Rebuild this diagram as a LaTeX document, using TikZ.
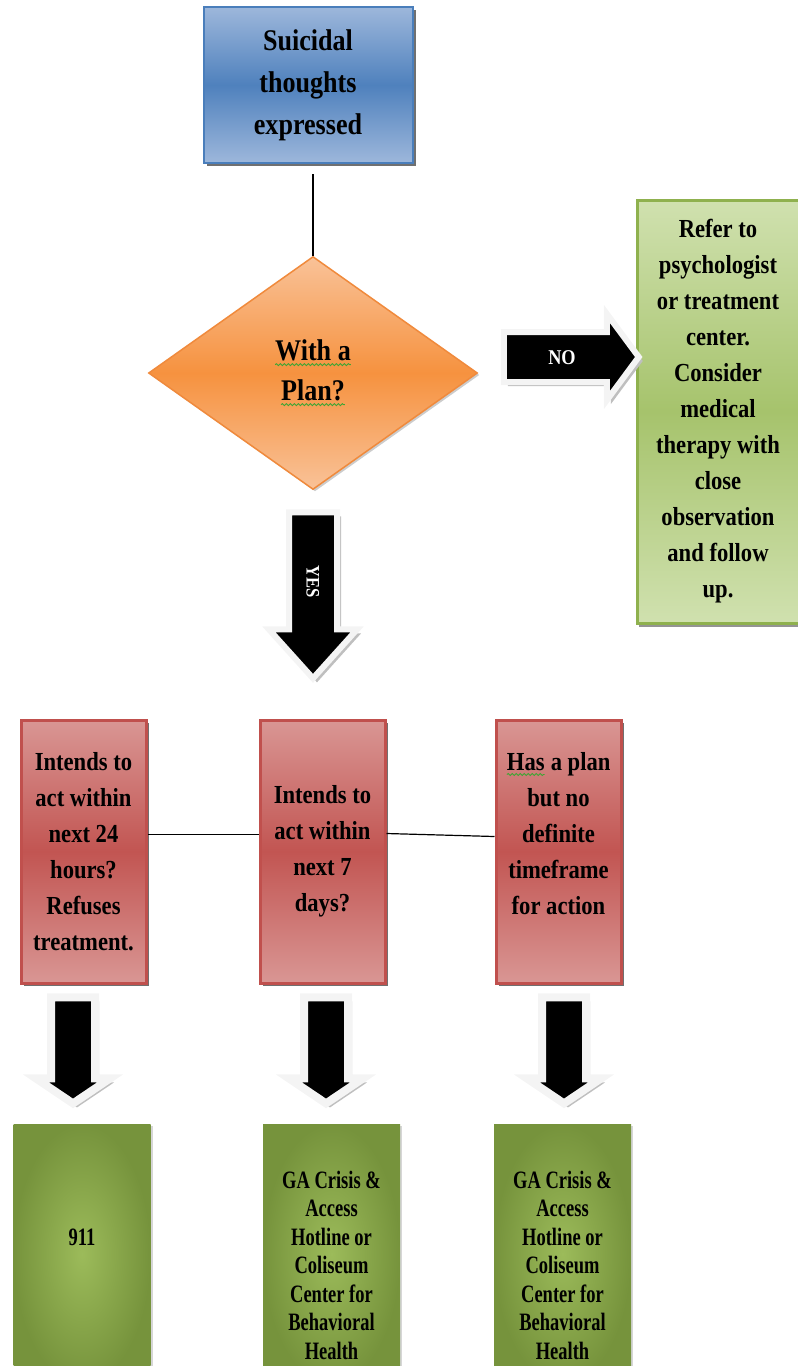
\documentclass[tikz,border=0pt]{standalone}
\usepackage{fontspec}
\usepackage{xcolor}
\usepackage{tikz}
\usetikzlibrary{shapes.geometric,shapes.arrows,shadows,decorations.pathmorphing}
\setmainfont{Liberation Serif}[FakeStretch=0.87]
\newfontfamily\narrowserif{Liberation Serif}[FakeStretch=0.74]
\definecolor{startblue}{HTML}{4F81BD}
\definecolor{startlight}{HTML}{9DB7DB}
\definecolor{startline}{HTML}{4A7EBB}
\definecolor{planorange}{HTML}{F6923F}
\definecolor{planlight}{HTML}{F9C298}
\definecolor{planline}{HTML}{F08A3C}
\definecolor{referlight}{HTML}{D0E1AF}
\definecolor{refermid}{HTML}{A6C36C}
\definecolor{referline}{HTML}{8FB14E}
\definecolor{risklight}{HTML}{D99694}
\definecolor{riskmid}{HTML}{C25552}
\definecolor{riskline}{HTML}{C0504D}
\definecolor{helpdark}{HTML}{76933C}
\definecolor{helplight}{HTML}{9CBB5A}
\definecolor{spellgreen}{HTML}{3FA535}
\definecolor{arrowframe}{HTML}{F4F4F4}
\newcommand{\spellchk}[1]{\tikz[baseline=(w.base)]{\node[rectangle, draw=none, fill=none, inner sep=0pt, outer sep=0pt,
    minimum width=0pt, minimum height=0pt] (w) {#1};
  \draw[spellgreen, line width=.9pt, decorate, decoration={snake, amplitude=1pt, segment length=4pt}]
    ([yshift=-4pt]w.base west) -- ([yshift=-4pt]w.base east);}}

\begin{document}
\begin{tikzpicture}[x=1pt,y=-1pt,
    startbox/.style={draw=startline, line width=2pt, top color=startlight, bottom color=startlight, middle color=startblue,
                     minimum width=209pt, minimum height=156pt, align=center, font=\bfseries\fontsize{30}{42}\selectfont,
                     drop shadow={shadow xshift=3pt, shadow yshift=-3pt, fill=black!70, opacity=.8}},
    decision/.style={diamond, draw=planline, line width=1.5pt, top color=planlight, bottom color=planlight, middle color=planorange,
                     minimum width=329pt, minimum height=233pt, inner sep=0pt, align=center, font=\bfseries\fontsize{30}{40}\selectfont,
                     drop shadow={shadow xshift=2pt, shadow yshift=-2pt, fill=black!40, opacity=.5}},
    referbox/.style={draw=referline, line width=3pt, top color=referlight, bottom color=referlight, middle color=refermid,
                     minimum width=162pt, minimum height=423pt, align=center, font=\bfseries\fontsize{26}{36}\selectfont,
                     drop shadow={shadow xshift=2pt, shadow yshift=-4pt, fill=black!60, opacity=.7}},
    riskbox/.style={draw=riskline, line width=3pt, top color=risklight, bottom color=risklight, middle color=riskmid,
                    minimum width=125pt, minimum height=263pt, align=center, font=\bfseries\fontsize{26}{36}\selectfont,
                    drop shadow={shadow xshift=3pt, shadow yshift=-3pt, fill=black!70, opacity=.8}},
    helpbox/.style={inner color=helplight, outer color=helpdark, minimum width=137pt, minimum height=260pt,
                    drop shadow={shadow xshift=2pt, shadow yshift=-2pt, fill=black!20, opacity=.8}},
    helptext/.style={align=center, font=\narrowserif\bfseries\fontsize{25}{28.5}\selectfont},
    blockarrow/.style={single arrow, fill=black, draw=arrowframe, line width=6pt, inner sep=0pt,
                       drop shadow={shadow xshift=4pt, shadow yshift=-4pt, fill=black!25, opacity=1}},
    link/.style={draw=black, line width=1.2pt}]
\useasboundingbox (0,0) rectangle (798,1366);

% boxes
\node[startbox] (start) at (308,85) {Suicidal\\thoughts\\expressed};
\node[decision] (plan) at (313,373) {\spellchk{With a}\\\spellchk{Plan?}};
\node[referbox] (refer) at (718,411.5) {Refer to\\psychologist\\or treatment\\center.\\Consider\\medical\\therapy with\\close\\observation\\and follow\\up.};

\node[riskbox] (riskA) at (83.5,851.5) {Intends to\\act within\\next 24\\hours?\\Refuses\\treatment.};
\node[riskbox] (riskB) at (322.5,851.5) {Intends to\\act within\\next 7\\days?};
\node[riskbox] (riskC) at (558.5,851.5) {\spellchk{Has} a plan\\but no\\definite\\timeframe\\for action\\\mbox{}};

\node[helpbox] (helpA) at (82,1254) {};
\node[helpbox] (helpB) at (331.5,1254) {};
\node[helpbox] (helpC) at (562.5,1254) {};
\node[helptext] (callA) at ([yshift=-114pt]helpA.north) {911};
\node[helptext] (callB) at ([yshift=-141.5pt]helpB.north) {GA Crisis \&\\Access\\Hotline or\\Coliseum\\Center for\\Behavioral\\Health};
\node[helptext] (callC) at ([yshift=-141.5pt]helpC.north) {GA Crisis \&\\Access\\Hotline or\\Coliseum\\Center for\\Behavioral\\Health};

% block arrows
\node[blockarrow, minimum height=135pt, text height=29pt, text depth=15pt, single arrow head extend=18pt, single arrow tip angle=107,
      text=white, font=\bfseries\fontsize{21}{24}\selectfont] (no) at (562,357) {NO};
\node[blockarrow, rotate=-90, minimum height=166pt, text height=27.5pt, text depth=14.5pt, single arrow head extend=20pt, single arrow tip angle=84,
      text=white, font=\bfseries\fontsize{19}{22}\selectfont] (yes) at (313,582) {YES};
\foreach \r/\x in {A/73,B/326,C/564}
  \node[blockarrow, rotate=-90, line width=8pt, minimum height=106pt, text height=18pt, text depth=18pt,
        single arrow head extend=15pt, single arrow tip angle=112] (down\r) at (\x,1043) {};

% links
\draw[link] ([yshift=-10pt]start.south -| plan.north) -- (plan.north);
\draw[link] ([yshift=17pt]riskA.east) -- ([yshift=17pt]riskB.west);
\draw[link] ([yshift=18pt]riskB.east) -- ([yshift=15pt]riskC.west);
\end{tikzpicture}
\end{document}
